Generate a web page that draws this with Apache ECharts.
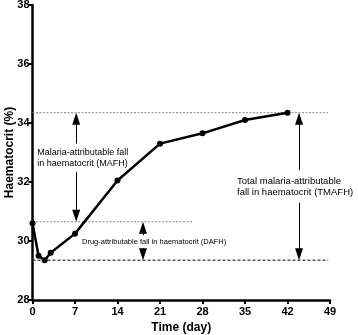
<!DOCTYPE html>
<html>
<head>
<meta charset="utf-8">
<script src="https://cdn.jsdelivr.net/npm/echarts@6/dist/echarts.min.js"></script>
<style>
  html, body { margin: 0; padding: 0; background: #fff; }
  #chart { width: 358px; height: 335px; }
</style>
</head>
<body>
<div id="chart"></div>
<script>
// haematocrit over time
var days = [0, 1, 2, 3, 7, 14, 21, 28, 35, 42];
var haematocrit = [30.6, 29.5, 29.35, 29.6, 30.25, 32.05, 33.3, 33.65, 34.1, 34.35];

// reference levels
var peakLevel = 34.35;     // total recovery level
var drugLevel = 30.65;     // level after drug effect
var nadirLevel = 29.35;    // lowest value
var peakLineEnd = 48.7;
var drugLineEnd = 26.3;
var nadirLineEnd = 48.7;

// arrows (x position in days)
var mafhDay = 7.2;
var dafhDay = 18.2;
var tmafhDay = 43.9;

var xTicks = [0, 7, 14, 21, 28, 35, 42, 49];
var yTicks = [28, 30, 32, 34, 36, 38];

var font = 'Liberation Sans, Arial, sans-serif';
var arrowLen = 12;

var chart = echarts.init(document.getElementById('chart'));

var option = {
    animation: false,
    grid: { left: 32.5, right: 28, top: 5, bottom: 35, containLabel: false, outerBoundsMode: 'none' },
    xAxis: {
        type: 'value',
        min: xTicks[0], max: xTicks[xTicks.length - 1], interval: 7,
        name: 'Time (day)',
        nameLocation: 'middle',
        nameGap: 22,
        nameTextStyle: { fontFamily: font, fontWeight: 'bold', fontSize: 12, color: '#000' },
        axisLine: { lineStyle: { color: '#000', width: 2.5 } },
        axisTick: { length: 4, lineStyle: { color: '#000', width: 2 } },
        axisLabel: { fontFamily: font, fontWeight: 'bold', fontSize: 11, color: '#000', margin: 6 },
        splitLine: { show: false }
    },
    yAxis: {
        type: 'value',
        min: yTicks[0], max: yTicks[yTicks.length - 1], interval: 2,
        axisLine: { show: true, lineStyle: { color: '#000', width: 2.5 } },
        axisTick: { show: true, length: 4, lineStyle: { color: '#000', width: 2 } },
        axisLabel: { fontFamily: font, fontWeight: 'bold', fontSize: 11, color: '#000', margin: 3 },
        splitLine: { show: false }
    },
    series: [
        {
            type: 'line',
            data: [[0, peakLevel], [peakLineEnd, peakLevel]],
            symbol: 'none', silent: true,
            lineStyle: { color: '#888', width: 1, type: [2, 1.5] }
        },
        {
            type: 'line',
            data: [[0, drugLevel], [drugLineEnd, drugLevel]],
            symbol: 'none', silent: true,
            lineStyle: { color: '#888', width: 1, type: [2, 1.5] }
        },
        {
            type: 'line',
            data: [[0, nadirLevel], [nadirLineEnd, nadirLevel]],
            symbol: 'none', silent: true,
            lineStyle: { color: '#000', width: 1, type: [3, 2] }
        },
        {
            type: 'line',
            data: days.map(function (d, i) { return [d, haematocrit[i]]; }),
            symbol: 'circle', symbolSize: 6,
            itemStyle: { color: '#000' },
            lineStyle: { color: '#000', width: 2.5 },
            z: 5
        }
    ]
};
chart.setOption(option);

// arrow symbols are centred on their end point, so pull the tip back by half its length
var half = (yTicks[1] - yTicks[0]) / (chart.convertToPixel({ yAxisIndex: 0 }, yTicks[0]) - chart.convertToPixel({ yAxisIndex: 0 }, yTicks[1])) * arrowLen / 2;

function seg(x, y1, y2, arrowTop, arrowBottom) {
    return [
        { coord: [x, arrowTop ? y1 - half : y1], symbol: arrowTop ? 'triangle' : 'none' },
        { coord: [x, arrowBottom ? y2 + half : y2], symbol: arrowBottom ? 'triangle' : 'none' }
    ];
}

chart.setOption({
    series: [{}, {}, {}, {
        markLine: {
            silent: true,
            symbolSize: [8, arrowLen],
            label: { show: false },
            lineStyle: { color: '#000', width: 1, type: 'solid' },
            data: [
                seg(mafhDay, peakLevel, 33.3, true, false),
                seg(mafhDay, 32.35, drugLevel, false, true),
                seg(dafhDay, drugLevel, 30.2, true, false),
                seg(dafhDay, 29.75, nadirLevel, false, true),
                seg(tmafhDay, peakLevel, 32.4, true, false),
                seg(tmafhDay, 31.3, nadirLevel, false, true)
            ]
        }
    }]
});

// annotation text placed from data coordinates
var p1 = chart.convertToPixel({ gridIndex: 0 }, [mafhDay, 32.82]);
var p2 = chart.convertToPixel({ gridIndex: 0 }, [dafhDay, 29.97]);
var p3 = chart.convertToPixel({ gridIndex: 0 }, [tmafhDay, 31.85]);
var yMid = chart.convertToPixel({ yAxisIndex: 0 }, (yTicks[0] + yTicks[yTicks.length - 1]) / 2);

chart.setOption({
    graphic: [
        {
            // y axis title
            type: 'text', x: 10, y: yMid, rotation: Math.PI / 2, silent: true,
            style: {
                text: 'Haematocrit (%)',
                font: 'bold 12px ' + font, fill: '#000',
                verticalAlign: 'middle', align: 'center'
            }
        },
        {
            type: 'text', x: p1[0] - 39, y: p1[1], silent: true,
            style: {
                text: 'Malaria-attributable fall\nin haematocrit (MAFH)',
                font: '9px ' + font, fill: '#000', lineHeight: 11,
                verticalAlign: 'middle', align: 'left'
            }
        },
        {
            type: 'text', x: p2[0] - 61, y: p2[1], silent: true,
            style: {
                text: 'Drug-attributable fall in haematocrit (DAFH)',
                font: '7.5px ' + font, fill: '#000',
                verticalAlign: 'middle', align: 'left'
            }
        },
        {
            type: 'text', x: p3[0] - 62, y: p3[1], silent: true,
            style: {
                text: 'Total malaria-attributable\nfall in haematocrit (TMAFH)',
                font: '9.5px ' + font, fill: '#000', lineHeight: 11,
                verticalAlign: 'middle', align: 'left'
            }
        }
    ]
});
</script>
</body>
</html>
